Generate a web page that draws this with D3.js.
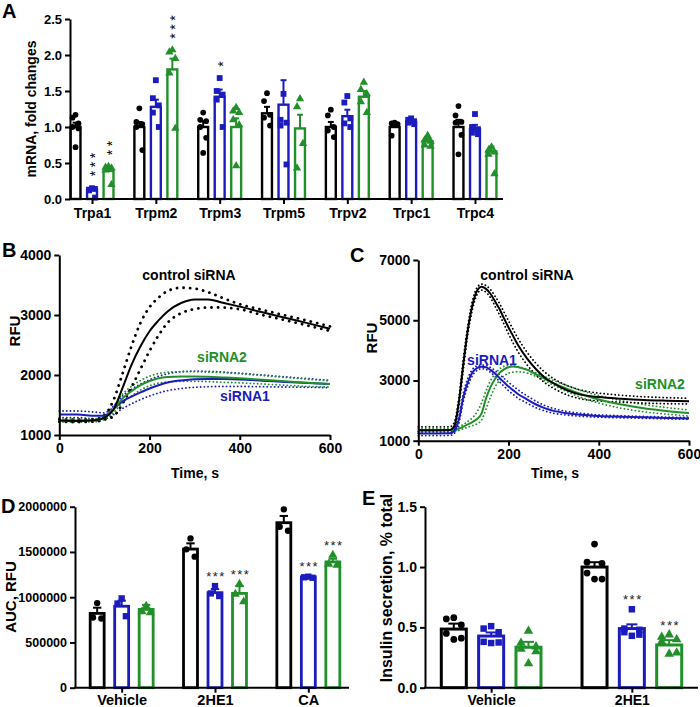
<!DOCTYPE html>
<html><head><meta charset="utf-8">
<script src="https://cdn.jsdelivr.net/npm/d3@7"></script>
<style>
body{margin:0;background:#fff}
svg text{font-family:"Liberation Sans",Arial,Helvetica,sans-serif;font-weight:bold;fill:#000}
</style></head>
<body><svg id="c" width="700" height="707"></svg>
<script>
// ---------- DATA ----------
const seriesNames = ["control siRNA","siRNA1","siRNA2"];
const colors = ["#000000","#1c1cbe","#22902a"];

// Panel A
const genesA = ["Trpa1","Trpm2","Trpm3","Trpm5","Trpv2","Trpc1","Trpc4"];
const ticksA = [0,0.5,1.0,1.5,2.0,2.5];
const meanA_ctrl = [1.0,1.0,1.0,1.19,1.0,1.0,1.0];
const meanA_si1  = [0.13,1.28,1.42,1.31,1.15,1.07,0.97];
const meanA_si2  = [0.39,1.80,1.0,0.98,1.42,0.80,0.66];
const semA_ctrl = [0.06,0.07,0.08,0.09,0.07,0.03,0.10];
const semA_si1  = [0.03,0.10,0.10,0.34,0.09,0.03,0.06];
const semA_si2  = [0.04,0.15,0.12,0.19,0.08,0.04,0.07];
const ptsA_ctrl = [[1.17,1.13,1.05,1.0,0.98,0.72],[1.26,1.07,1.04,1.0,0.68],[1.2,1.1,1.08,1.0,0.85,0.64],[1.47,1.36,1.17,1.13,1.02],[1.24,1.16,1.0,0.95,0.86],[1.06,1.05,1.04,0.88],[1.29,1.16,1.07,1.06,0.89,0.62]];
const ptsA_si1  = [[0.15,0.13,0.14,0.12,0.02],[1.65,1.4,1.3,1.2,1.0],[1.68,1.5,1.45,1.38,1.0],[1.46,1.1,1.06,1.02,0.48],[1.43,1.34,1.12,1.05,1.0],[1.12,1.1,1.08,1.06,1.04],[1.18,1.0,0.97,0.92,0.9]];
const ptsA_si2  = [[0.45,0.44,0.43,0.40,0.2],[2.07,2.04,1.95,1.75,0.98],[1.27,1.22,1.2,1.1,1.03,0.46],[1.39,1.28,0.77,0.43],[1.62,1.52,1.46,1.35,1.2],[0.88,0.82,0.8,0.75,0.73],[0.72,0.68,0.65,0.62,0.35]];
const sigA_ctrl = ["","","","","","",""];
const sigA_si1  = ["***","","*","","","",""];
const sigA_si2  = ["**","***","","","","",""];

// Panel B (time course, RFU)
const tB = [0,40,80,100,120,140,160,180,200,220,240,270,300,330,360,400,450,500,550,600];
const bCtrl   = [1240,1235,1245,1290,1420,1780,2170,2480,2730,2910,3060,3200,3260,3260,3210,3140,3045,2955,2865,2770];
const bCtrlHi = [1260,1255,1265,1330,1580,2020,2480,2870,3130,3290,3400,3455,3440,3380,3290,3180,3085,2995,2905,2810];
const bCtrlLo = [1220,1215,1225,1255,1310,1520,1800,2100,2400,2660,2870,3030,3100,3125,3125,3095,3000,2915,2825,2735];
const bSi1    = [1340,1340,1320,1320,1430,1560,1640,1710,1775,1830,1875,1910,1930,1935,1932,1925,1905,1885,1865,1850];
const bSi1Hi  = [1400,1400,1380,1370,1480,1650,1760,1850,1920,1980,2020,2055,2065,2060,2050,2030,2000,1970,1940,1910];
const bSi1Lo  = [1290,1290,1270,1270,1340,1440,1520,1590,1650,1700,1740,1775,1795,1805,1810,1810,1805,1800,1795,1790];
const bSi2    = [1240,1240,1245,1290,1420,1610,1730,1830,1900,1945,1965,1975,1975,1970,1960,1945,1920,1895,1870,1850];
const bSi2Hi  = [1265,1265,1270,1320,1470,1680,1810,1910,1980,2025,2045,2055,2055,2050,2040,2020,1990,1960,1930,1900];
const bSi2Lo  = [1215,1215,1220,1260,1370,1540,1650,1750,1820,1865,1885,1895,1895,1890,1880,1870,1850,1830,1810,1800];
const ticksBx = [0,200,400,600];
const ticksBy = [1000,2000,3000,4000];

// Panel C
const tC = [0,40,70,80,90,100,110,120,130,140,150,160,170,180,190,200,210,220,240,260,280,300,330,360,400,450,500,550,600];
const cCtrl   = [1350,1350,1355,1500,2300,3570,4700,5500,5970,6110,6040,5880,5630,5370,5060,4760,4480,4200,3750,3390,3100,2900,2670,2530,2450,2395,2355,2330,2310];
const cCtrlHi = [1460,1460,1460,1620,2450,3750,4850,5650,6080,6200,6150,6020,5800,5560,5270,4980,4700,4420,3960,3580,3280,3060,2830,2680,2580,2510,2460,2430,2410];
const cCtrlLo = [1250,1250,1250,1400,2150,3380,4550,5350,5850,6000,5930,5750,5470,5180,4870,4550,4250,3980,3540,3200,2930,2740,2520,2390,2320,2280,2250,2230,2220];
const cSi1    = [1240,1240,1245,1330,1700,2460,2950,3270,3410,3455,3440,3350,3230,3080,2940,2800,2680,2560,2380,2210,2080,1990,1910,1860,1820,1795,1775,1755,1740];
const cSi1Hi  = [1320,1320,1320,1420,1820,2600,3080,3370,3480,3510,3500,3430,3330,3200,3070,2940,2820,2700,2500,2320,2170,2070,1970,1910,1860,1830,1805,1785,1770];
const cSi1Lo  = [1170,1170,1175,1250,1580,2320,2820,3160,3330,3390,3370,3270,3130,2960,2810,2660,2540,2420,2260,2100,1990,1910,1850,1810,1780,1760,1745,1725,1710];
const cSi2    = [1350,1350,1350,1355,1400,1470,1540,1620,1720,1900,2400,2780,3050,3250,3370,3440,3460,3450,3360,3210,3060,2910,2720,2550,2370,2200,2080,1990,1920];
const cSi2Hi  = [1400,1400,1400,1410,1460,1540,1640,1760,1950,2250,2650,2990,3220,3380,3470,3500,3490,3460,3380,3260,3130,3000,2830,2670,2500,2330,2200,2100,2020];
const cSi2Lo  = [1300,1300,1300,1305,1340,1400,1450,1500,1560,1680,2050,2450,2780,3010,3150,3240,3280,3290,3250,3140,3000,2840,2630,2440,2250,2080,1960,1880,1820];
const ticksCx = [0,200,400,600];
const ticksCy = [1000,3000,5000,7000];

// Panel D
const treatD = ["Vehicle","2HE1","CA"];
const ticksD = [0,500000,1000000,1500000,2000000];
const meanD_ctrl = [821000,1532000,1823000];
const meanD_si1  = [900000,1050000,1225000];
const meanD_si2  = [865000,1042000,1390000];
const semD_ctrl = [63000,63000,75000];
const semD_si1  = [62000,40000,8000];
const semD_si2  = [50000,80000,35000];
const ptsD_ctrl = [[935000,775000,765000],[1650000,1529000,1448000],[1971000,1779000,1735000]];
const ptsD_si1  = [[987000,930000,790000],[1123000,1042000,1013000],[1227000,1220000,1215000]];
const ptsD_si2  = [[902000,840000,829000],[1145000,1035000,950000],[1466000,1366000,1355000]];
const sigD_ctrl = ["","",""];
const sigD_si1  = ["","***","***"];
const sigD_si2  = ["","***","***"];

// Panel E
const treatE = ["Vehicle","2HE1"];
const ticksE = [0,0.5,1.0,1.5];
const meanE_ctrl = [0.486,1.0];
const meanE_si1  = [0.428,0.49];
const meanE_si2  = [0.335,0.354];
const semE_ctrl = [0.045,0.04];
const semE_si1  = [0.03,0.035];
const semE_si2  = [0.045,0.04];
const ptsE_ctrl = [[0.58,0.57,0.52,0.45,0.41,0.40],[1.19,1.04,1.03,0.95,0.9,0.9]];
const ptsE_si1  = [[0.51,0.49,0.46,0.38,0.375,0.37],[0.65,0.49,0.48,0.46,0.44,0.43]];
const ptsE_si2  = [[0.47,0.37,0.34,0.32,0.30,0.20],[0.44,0.42,0.40,0.38,0.29,0.28]];
const sigE_ctrl = ["",""];
const sigE_si1  = ["","***"];
const sigE_si2  = ["","***"];

// ---------- DRAWING ----------
const svg = d3.select("#c");
const symbols = [d3.symbolCircle, d3.symbolSquare, d3.symbolTriangle];
const jit = [0,-0.3,0.3,-0.3,0.3,0];

function styleAxis(g, fs){
  g.selectAll("path.domain").attr("stroke","#000").attr("stroke-width",2);
  g.selectAll(".tick line").attr("stroke","#000").attr("stroke-width",2);
  g.selectAll(".tick text").attr("font-size",fs).attr("font-family",null).attr("fill","#000");
}

function yAxis(x, y, ticks, fmt, fs){
  const g = svg.append("g").attr("transform",`translate(${x},0)`)
    .call(d3.axisLeft(y).tickValues(ticks).tickFormat(fmt).tickSize(5).tickSizeOuter(0).tickPadding(3));
  styleAxis(g, fs);
}

function catAxis(x, y0, x0, x1, fs, pad){
  const g = svg.append("g").attr("transform",`translate(0,${y0})`)
    .call(d3.axisBottom(x).tickSize(5).tickPadding(pad));
  g.select("path.domain").remove();
  styleAxis(g, fs);
  svg.append("line").attr("x1",x0).attr("x2",x1).attr("y1",y0).attr("y2",y0)
    .attr("stroke","#000").attr("stroke-width",2);
}

function drawBars(c){
  const g = svg.append("g");
  const bw = c.sub.bandwidth();
  c.cats.forEach((cat,ci)=>{
    [0,1,2].forEach(si=>{
      const cx = c.x(cat) + c.sub(si) + bw/2;
      const m = c.means[si][ci], e = c.sems[si][ci];
      g.append("rect").attr("x",cx-bw/2).attr("y",c.y(m)).attr("width",bw)
        .attr("height",c.y(0)-c.y(m)).attr("fill","#fff")
        .attr("stroke",colors[si]).attr("stroke-width",c.sw);
      g.append("line").attr("x1",cx).attr("x2",cx).attr("y1",c.y(m)).attr("y2",c.y(m+e))
        .attr("stroke",colors[si]).attr("stroke-width",c.ew);
      g.append("line").attr("x1",cx-bw*c.cap).attr("x2",cx+bw*c.cap).attr("y1",c.y(m+e)).attr("y2",c.y(m+e))
        .attr("stroke",colors[si]).attr("stroke-width",c.ew);
      const pts = c.pts[si][ci];
      pts.forEach((v,i)=>{
        g.append("path").attr("d",d3.symbol(symbols[si], c.sym[si])())
          .attr("transform",`translate(${cx+jit[i%6]*bw},${c.y(v)})`)
          .attr("fill",colors[si]);
      });
      const sig = c.sigs[si][ci];
      if(sig){
        const top = Math.min(c.y(d3.max(pts)), c.y(m+e));
        if(c.stack){
          // vertical stack of asterisks as a single rotated text
          const n = sig.length;
          const cy = top - c.starOff - (n-1)*c.starGap/2;
          const tx = cx + c.starBase;
          const ls = c.starGap - c.starFs*0.389;
          g.append("text").attr("x",tx).attr("y",cy)
            .attr("transform",`rotate(-90,${tx},${cy})`)
            .attr("text-anchor","middle").attr("font-size",c.starFs)
            .attr("letter-spacing",ls).attr("dx",ls/2)
            .style("font-weight","normal").style("fill","#000").text(sig);
        } else {
          g.append("text").attr("x",cx+1).attr("y",top-c.starOff+c.starBase)
            .attr("text-anchor","middle").attr("font-size",c.starFs)
            .attr("letter-spacing",c.starLs)
            .style("font-weight","normal").style("fill","#222").text(sig);
        }
      }
    });
  });
}

function drawLines(x, y, t, sets){
  const line = (arr)=> d3.line().x((d,i)=>x(t[i])).y(d=>y(d)).curve(d3.curveMonotoneX)(arr);
  sets.forEach(s=>{
    [s.hi, s.lo].forEach(arr=>{
      svg.append("path").attr("d",line(arr)).attr("fill","none").attr("stroke",s.color)
        .attr("stroke-width",s.dotW).attr("stroke-linecap","round").attr("stroke-dasharray",s.dash);
    });
  });
  sets.forEach(s=>{
    svg.append("path").attr("d",line(s.mean)).attr("fill","none").attr("stroke",s.color)
      .attr("stroke-width",2);
  });
}

function label(txt,x,y,fs,opts={}){
  const t = svg.append("text").attr("x",x).attr("y",y).attr("font-size",fs).text(txt);
  if(opts.anchor) t.attr("text-anchor",opts.anchor);
  if(opts.rot) t.attr("transform",`rotate(-90,${x},${y})`);
  if(opts.fill) t.style("fill",opts.fill);
  return t;
}

// ===== Panel A =====
const yA = d3.scaleLinear().domain([0,2.5]).range([199,19]);
const xA = d3.scalePoint().domain(genesA).range([70,497]).padding(0.345);
const subA = d3.scaleBand().domain([0,1,2]).range([-24.75,24.75]).paddingInner(0.4).paddingOuter(0.2);
drawBars({cats:genesA,x:xA,sub:subA,y:yA,
  means:[meanA_ctrl,meanA_si1,meanA_si2], sems:[semA_ctrl,semA_si1,semA_si2],
  pts:[ptsA_ctrl,ptsA_si1,ptsA_si2], sigs:[sigA_ctrl,sigA_si1,sigA_si2],
  sw:2.4, ew:2, cap:0.3, sym:[26,34,30], stack:true, starOff:14, starGap:9, starBase:8, starFs:14});
yAxis(70, yA, ticksA, d3.format(".1f"), 13);
catAxis(xA, 199, 69, 503, 14, 4);
label("mRNA, fold changes", 36, 109, 14, {anchor:"middle", rot:true});
label("A", 2, 18, 20);

// ===== Panel B =====
const xB = d3.scaleLinear().domain([0,600]).range([59.3,330]);
const yB = d3.scaleLinear().domain([1000,4000]).range([435,255]);
drawLines(xB, yB, tB, [
  {mean:bSi1, hi:bSi1Hi, lo:bSi1Lo, color:colors[1], dotW:1.8, dash:"0.1,3.6"},
  {mean:bSi2, hi:bSi2Hi, lo:bSi2Lo, color:colors[2], dotW:1.8, dash:"0.1,3.6"},
  {mean:bCtrl, hi:bCtrlHi, lo:bCtrlLo, color:colors[0], dotW:2.8, dash:"0.1,6.5"}
]);
{
  const gx = svg.append("g").attr("transform","translate(0,435)")
    .call(d3.axisBottom(xB).tickValues(ticksBx).tickSize(5).tickSizeOuter(0).tickPadding(3));
  styleAxis(gx, 14);
}
yAxis(59.3, yB, ticksBy, d3.format("d"), 14);
label("Time, s", 195, 478, 14, {anchor:"middle"});
label("RFU", 20, 331, 15, {anchor:"middle", rot:true});
label("control siRNA", 189, 280, 14, {anchor:"middle"});
label("siRNA2", 222, 362, 14, {anchor:"middle", fill:colors[2]});
label("siRNA1", 245, 401, 14, {anchor:"middle", fill:colors[1]});
label("B", 2, 257, 20);

// ===== Panel C =====
const xC = d3.scaleLinear().domain([0,600]).range([418.3,689]);
const yC = d3.scaleLinear().domain([1000,7000]).range([440.7,260]);
drawLines(xC, yC, tC, [
  {mean:cSi2, hi:cSi2Hi, lo:cSi2Lo, color:colors[2], dotW:1.8, dash:"0.1,3.6"},
  {mean:cSi1, hi:cSi1Hi, lo:cSi1Lo, color:colors[1], dotW:1.8, dash:"0.1,3.6"},
  {mean:cCtrl, hi:cCtrlHi, lo:cCtrlLo, color:colors[0], dotW:1.8, dash:"0.1,3.6"}
]);
{
  const gx = svg.append("g").attr("transform","translate(0,440.7)")
    .call(d3.axisBottom(xC).tickValues(ticksCx).tickSize(5).tickSizeOuter(0).tickPadding(3));
  styleAxis(gx, 14);
}
yAxis(418.3, yC, ticksCy, d3.format("d"), 14);
label("Time, s", 555, 478, 14, {anchor:"middle"});
label("RFU", 377, 338, 15, {anchor:"middle", rot:true});
label("control siRNA", 527, 280, 14, {anchor:"middle"});
label("siRNA1", 492, 365, 14, {anchor:"middle", fill:colors[1]});
label("siRNA2", 660, 389, 14, {anchor:"middle", fill:colors[2]});
label("C", 350, 262, 20);

// ===== Panel D =====
const yD = d3.scaleLinear().domain([0,2000000]).range([687.7,506.7]);
const xD = d3.scalePoint().domain(treatD).range([75,355]).padding(0.5);
const subD = d3.scaleBand().domain([0,1,2]).range([-36.75,36.75]).paddingInner(0.43).paddingOuter(0.215);
drawBars({cats:treatD,x:xD,sub:subD,y:yD,
  means:[meanD_ctrl,meanD_si1,meanD_si2], sems:[semD_ctrl,semD_si1,semD_si2],
  pts:[ptsD_ctrl,ptsD_si1,ptsD_si2], sigs:[sigD_ctrl,sigD_si1,sigD_si2],
  sw:2.8, ew:2, cap:0.3, sym:[32,40,36], stack:false, starOff:13, starBase:8, starFs:13, starLs:1.5});
yAxis(75, yD, ticksD, d3.format("d"), 12.5);
catAxis(xD, 687.7, 74, 349, 14.5, 2);
label("AUC, RFU", 16, 597, 15, {anchor:"middle", rot:true});
label("D", 1, 513, 20);

// ===== Panel E =====
const yE = d3.scaleLinear().domain([0,1.5]).range([687.7,506.7]);
const xE = d3.scalePoint().domain(treatE).range([425,698]).padding(0.47);
const subE = d3.scaleBand().domain([0,1,2]).range([-56,56]).paddingInner(0.33).paddingOuter(0.165);
drawBars({cats:treatE,x:xE,sub:subE,y:yE,
  means:[meanE_ctrl,meanE_si1,meanE_si2], sems:[semE_ctrl,semE_si1,semE_si2],
  pts:[ptsE_ctrl,ptsE_si1,ptsE_si2], sigs:[sigE_ctrl,sigE_si1,sigE_si2],
  sw:3, ew:2, cap:0.22, sym:[36,42,40], stack:false, starOff:13, starBase:8, starFs:13, starLs:1.5});
yAxis(425, yE, ticksE, d3.format(".1f"), 14);
catAxis(xE, 687.7, 424, 698, 14, 2);
label("Insulin secretion, % total", 392, 588, 16, {anchor:"middle", rot:true});
label("E", 362, 505, 20);
</script></body></html>
